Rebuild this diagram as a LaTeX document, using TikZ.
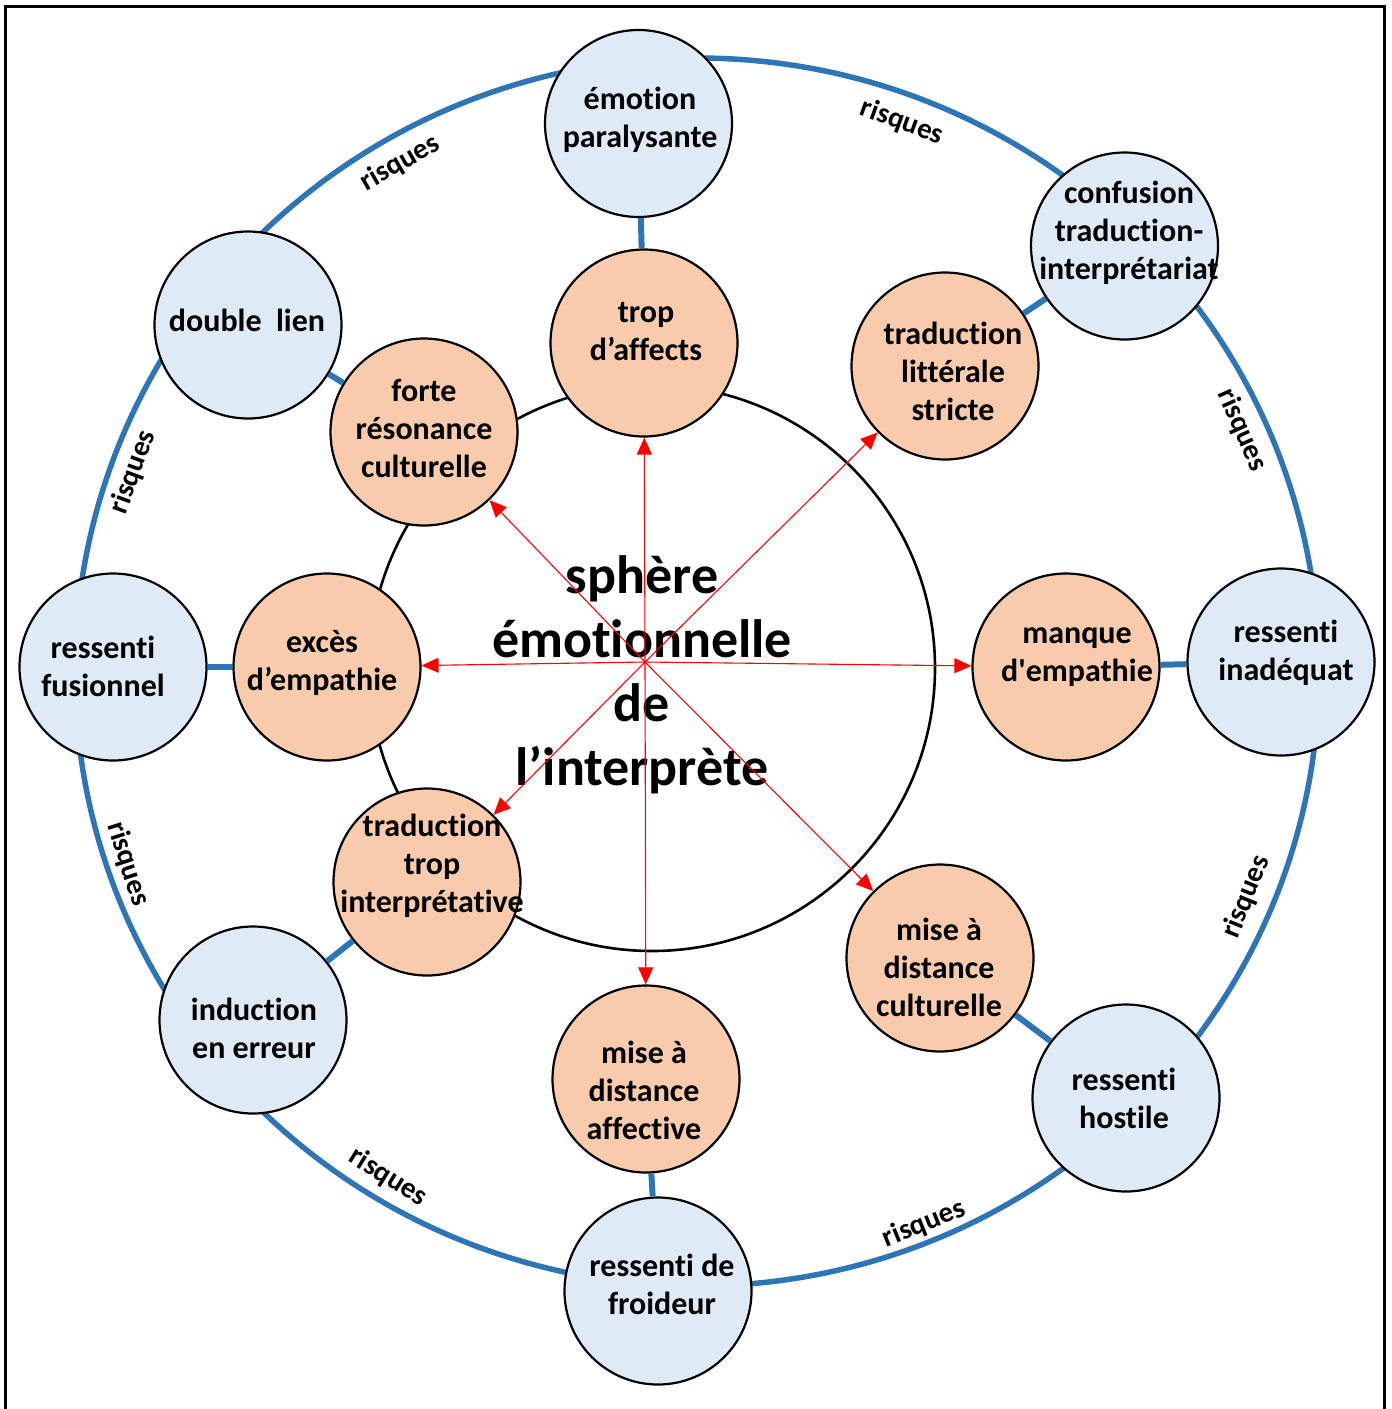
\documentclass[tikz,border=0pt]{standalone}
\usepackage{fontspec}
\setmainfont{Carlito}[Ligatures=NoCommon]
\usetikzlibrary{arrows.meta,backgrounds}

\definecolor{ringblue}{HTML}{2E75B6}
\definecolor{paleblue}{HTML}{DEEBF7}
\definecolor{paleorange}{HTML}{F8CBAD}

\begin{document}
\begin{tikzpicture}[x=1pt,y=-1pt,semithick]
\tikzset{
	risk node/.style={circle,draw=black,line width=2.2pt,fill=paleblue,minimum size=187pt,inner sep=0pt},
	cause node/.style={risk node,fill=paleorange},
	node text/.style={align=center,inner sep=0pt,font=\fontsize{32}{38}\selectfont\bfseries},
	link/.style={draw=ringblue,line width=6pt},
	push/.style={draw=red,line width=1.1pt,-{Triangle[length=17pt,width=15pt]}},
	risk text/.style={font=\fontsize{29}{34}\selectfont\bfseries,inner sep=0pt}
}
\useasboundingbox (0,0) rectangle (1392,1409);
\draw[line width=3pt] (5.5,6) rectangle (1384,1440);

% ring and sphere
\draw[ringblue,line width=5.5pt] (697,672) ellipse (622pt and 614pt);
\draw[line width=2.6pt] (652,668) circle (283pt);

% risks (outer circles)
      \node[risk node] (b1) at (638.5,123.5) {};
      \node[risk node] (b2) at (1124.5,246) {};
      \node[risk node] (b3) at (1281,662) {};
      \node[risk node] (b4) at (1126,1098) {};
      \node[risk node] (b5) at (658,1291) {};
      \node[risk node] (b6) at (253,1020) {};
      \node[risk node] (b7) at (113,667) {};
      \node[risk node] (b8) at (248,325) {};

      \node[node text] (b1t) at (640,120) {émotion\\paralysante};
      \node[node text] (b2t) at (1129,233) {confusion\\traduction-\\interprétariat};
      \node[node text] (b3t) at (1286,653) {ressenti\\inadéquat};
      \node[node text] (b4t) at (1124,1098) {ressenti\\hostile};
      \node[node text] (b5t) at (662,1284) {ressenti de\\froideur};
      \node[node text] (b6t) at (254,1028) {induction\\en erreur};
      \node[node text] (b7t) at (103,666) {ressenti\\fusionnel};
      \node[node text] (b8t) at (247,320) {double\ \ lien};

% causes (inner circles)
      \node[cause node] (c1) at (644,343) {};
      \node[cause node] (c2) at (945,366) {};
      \node[cause node] (c3) at (1066,667) {};
      \node[cause node] (c4) at (940,958) {};
      \node[cause node] (c5) at (646,1079) {};
      \node[cause node] (c6) at (427,882) {};
      \node[cause node] (c7) at (327,667) {};
      \node[cause node] (c8) at (424,432) {};

      \node[node text] (c1t) at (646,332) {trop\\d’affects};
      \node[node text] (c2t) at (953,371) {traduction\\littérale\\stricte};
      \node[node text] (c3t) at (1077,657) {manque\\d\textquotesingle empathie};
      \node[node text] (c4t) at (939,967) {mise à\\distance\\culturelle};
      \node[node text] (c5t) at (644,1090) {mise à\\distance\\affective};
      \node[node text] (c6t) at (432,866) {traduction\\trop\\interprétative};
      \node[node text] (c7t) at (322,663) {excès\\d’empathie};
      \node[node text] (c8t) at (424,428) {forte\\résonance\\culturelle};

      \node[font=\fontsize{54}{64}\selectfont\bfseries,align=center] (sphere) at (642,675) {sphère\\émotionnelle\\de\\l’interprète};

      \node[risk text,rotate=30] (q1) at (400,163) {risques};
      \node[risk text,rotate=-20] (q2) at (902,122) {risques};
      \node[risk text,rotate=-66] (q3) at (1242,430) {risques};
      \node[risk text,rotate=68] (q4) at (1246,897) {risques};
      \node[risk text,rotate=22] (q5) at (924,1224) {risques};
      \node[risk text,rotate=-32] (q6) at (388,1177) {risques};
      \node[risk text,rotate=-72] (q7) at (128,864) {risques};
      \node[risk text,rotate=70] (q8) at (133,472) {risques};

      \coordinate (ctr) at (645,662);
      \foreach \n in {c1,c2,c3,c4,c5,c6,c7,c8}
        \draw[push] (ctr) -- (\n);

    \path[link] (c1) edge (b1);
    \path[link] (c2) edge (b2);
    \path[link] (c3) edge (b3);
    \path[link] (c4) edge (b4);
    \path[link] (c5) edge (b5);
    \path[link] (c6) edge (b6);
    \path[link] (c7) edge (b7);
    \path[link] (c8) edge (b8);
\end{tikzpicture}
\end{document}
